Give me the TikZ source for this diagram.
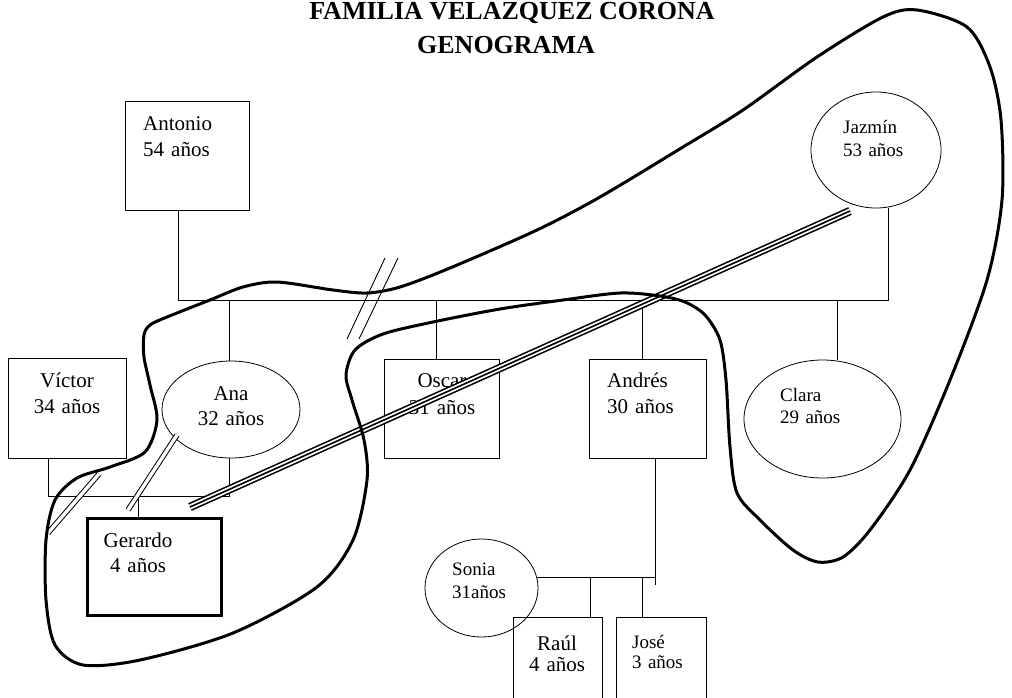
\documentclass[tikz,border=0pt]{standalone}
\usepackage{fontspec}
\setmainfont{Liberation Serif}
\usetikzlibrary{shapes.geometric}
\begin{document}
\begin{tikzpicture}[x=1pt,y=-1pt,
  box/.style={draw,line width=0.8pt,rectangle,inner sep=0pt},
  thickbox/.style={draw,line width=3.4pt,rectangle,inner sep=0pt},
  oval/.style={draw,line width=0.8pt,ellipse,inner sep=0pt},
  lblL/.style={anchor=base west,inner sep=0pt,text width=110pt,align=left},
  lblC/.style={anchor=base,inner sep=0pt,text width=110pt,align=center},
  big/.style={font=\fontsize{21}{#1}\selectfont},
  small/.style={font=\fontsize{19}{#1}\selectfont},
  ttl/.style={anchor=base,inner sep=0pt,font=\fontsize{26}{30}\selectfont\bfseries},
  conn/.style={line width=0.8pt},
  dbl/.style={double,double distance=3.4pt,line width=1pt},
  trp/.style={double,double distance=5.2pt,line width=1.6pt},
  mid/.style={line width=1.6pt},
  cut/.style={line width=0.9pt},
  bound/.style={line width=3pt,line join=round}
]
\useasboundingbox (0,0) rectangle (1012,697);

% titles
\node[ttl] (t1) at (512,19) {FAMILIA VELAZQUEZ CORONA};
\node[ttl] (t2) at (506,53) {GENOGRAMA};

% people
\node[box,minimum width=124pt,minimum height=109pt] (antonio) at (187,155.5) {};
\node[oval,minimum width=130pt,minimum height=116pt] (jazmin) at (876,150) {};
\node[box,minimum width=118pt,minimum height=100pt] (victor) at (67,408) {};
\node[oval,minimum width=138pt,minimum height=97pt] (ana) at (231,409.5) {};
\node[box,minimum width=115pt,minimum height=99pt] (oscar) at (441.5,408.5) {};
\node[box,minimum width=117pt,minimum height=99pt] (andres) at (647.5,408.5) {};
\node[oval,minimum width=157pt,minimum height=118pt] (clara) at (822.5,419) {};
\node[thickbox,minimum width=134pt,minimum height=97pt] (gerardo) at (154.5,567) {};
\node[oval,minimum width=113pt,minimum height=98pt] (sonia) at (481.5,588) {};
\node[box,minimum width=89pt,minimum height=90pt] (raul) at (557.5,662) {};
\node[box,minimum width=90pt,minimum height=90pt] (jose) at (661,662) {};

% labels
\node[lblL,big=26] (antonioT) at (143,130) {Antonio\\54 años};
\node[lblL,small=23] (jazminT) at (843,133) {Jazmín\\53 años};
\node[lblC,big=26] (victorT) at (67,387) {Víctor\\34 años};
\node[lblC,big=25] (anaT) at (231,400) {Ana\\32 años};
\node[lblC,big=27] (oscarT) at (442,387) {Oscar\\31 años};
\node[lblL,big=26] (andresT) at (607,387) {Andrés\\30 años};
\node[lblL,small=22] (claraT) at (780,401) {Clara\\29 años};
\node[lblC,big=25] (gerardoT) at (138,547) {Gerardo\\4 años};
\node[lblL,small=23] (soniaT) at (452,575) {Sonia\\31años};
\node[lblC,big=21] (raulT) at (557,650) {Raúl\\4 años};
\node[lblL,small=20] (joseT) at (632,648) {José\\3 años};

% coordinates of the family lines
\coordinate (sibL) at (178,300);
\coordinate (sibR) at (888,300);
\coordinate (dAna) at (229,300);
\coordinate (dOsc) at (436,300);
\coordinate (dAnd) at (642,300);
\coordinate (dCla) at (837,300);
\coordinate (cV) at (48,496);
\coordinate (cA) at (229,496);
\coordinate (cG) at (138,496);
\coordinate (sS) at (537,577);
\coordinate (sA) at (655,577);
\coordinate (sAend) at (655,585);
\coordinate (sR) at (590,577);
\coordinate (sJ) at (642,577);

% sibling line
\draw[conn] (antonio.south -| sibL) -- (sibL) -- (sibR) -- (jazmin.south -| sibR);
\draw[conn] (dAna) -- (ana.north -| dAna);
\draw[conn] (dOsc) -- (oscar.north -| dOsc);
\draw[conn] (dAnd) -- (andres.north -| dAnd);
\draw[conn] (dCla) -- (clara.north -| dCla);

% Victor - Ana
\draw[conn] (victor.south -| cV) -- (cV) -- (cA) -- (ana.south -| cA);
\draw[conn] (cG) -- (gerardo.north -| cG);

% Andres - Sonia
\draw[conn] (sS) -- (sA);
\draw[conn] (andres.south -| sA) -- (sAend);
\draw[conn] (sR) -- (raul.north -| sR);
\draw[conn] (sJ) -- (jose.north -| sJ);

% cut mark
\draw[cut] (385,258) -- (347,339);
\draw[cut] (398,258) -- (359,339);

% relationship lines
\coordinate (rV1) at (48,533);
\coordinate (rV2) at (99,474);
\coordinate (rA1) at (177,435);
\coordinate (rA2) at (128,510);
\coordinate (rJ1) at (850,211);
\coordinate (rJ2) at (190,507);
\draw[dbl] (rV1) -- (rV2);
\draw[dbl] (rA1) -- (rA2);
\draw[trp] (rJ1) -- (rJ2);
\draw[mid] (rJ1) -- (rJ2);

% boundary
\draw[bound] plot[smooth cycle,tension=0.5] coordinates {
(917,10) (967,27) (990,67) (1001,120) (1002,200) (987,280) (950,380) (910,470)
(870,530) (843,557) (818,562) (793,550) (760,520) (737,493) (730,447) (726,380)
(720,340) (705,315) (685,302) (660,296) (620,293) (563,300) (500,309) (433,322)
(383,334) (355,350) (346,375) (352,400) (364,440) (367,480) (353,540) (317,587)
(233,633) (140,660) (83,665) (55,645) (46,600) (46,540) (55,500) (77,478)
(110,467) (145,452) (157,420) (150,385) (144,357) (144,335) (150,325) (167,317)
(210,300) (243,287) (277,282) (333,290) (367,293) (400,287) (450,268) (537,230)
(600,197) (683,147) (743,110) (817,57) (883,17)};
\end{tikzpicture}
\end{document}
